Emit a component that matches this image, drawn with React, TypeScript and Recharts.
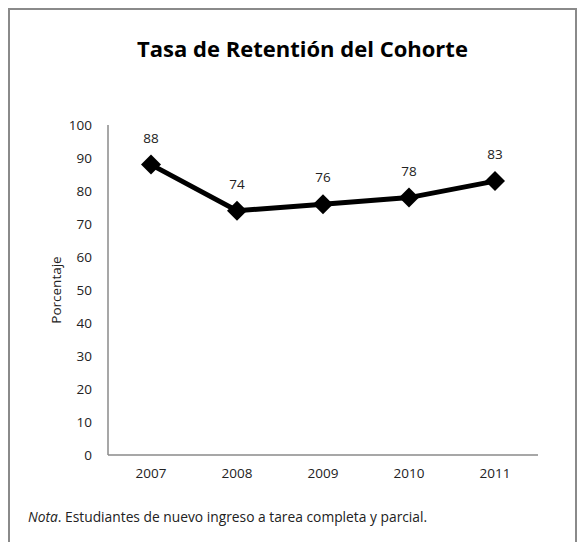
import { LineChart, Line, XAxis, YAxis, LabelList } from "recharts";

const years = ["2007", "2008", "2009", "2010", "2011"];
const retention = [88, 74, 76, 78, 83];
const yTicks = [0, 10, 20, 30, 40, 50, 60, 70, 80, 90, 100];

const data = years.map((year, i) => ({ year, value: retention[i] }));

const FONT = "'Open Sans', sans-serif";

function Diamond(props: any) {
  const { cx, cy } = props;
  if (cx == null || cy == null) return null;
  const r = 10;
  return (
    <path
      d={`M${cx},${cy - r} L${cx + r},${cy} L${cx},${cy + r} L${cx - r},${cy} Z`}
      fill="#000"
    />
  );
}

function YLabel(props: any) {
  const { viewBox } = props;
  const x = viewBox.x + 8;
  const y = viewBox.y + viewBox.height / 2;
  return (
    <text
      x={x}
      y={y}
      transform={`rotate(-90, ${x}, ${y})`}
      textAnchor="middle"
      dominantBaseline="central"
      fontSize={13.5}
      fontFamily={FONT}
      fill="#222"
    >
      Porcentaje
    </text>
  );
}

export default function App() {
  return (
    <div
      style={{
        position: "relative",
        width: 565,
        height: 532,
        borderTop: "2px solid #8a8a8a",
        borderLeft: "2px solid #8a8a8a",
        borderRight: "2px solid #8a8a8a",
        fontFamily: FONT,
      }}
    >
      <div
        style={{
          position: "absolute",
          top: 23,
          left: 10,
          width: 565,
          textAlign: "center",
          fontSize: 22,
          fontWeight: "bold",
          color: "#000",
        }}
      >
        Tasa de Retentión del Cohorte
      </div>
      <LineChart
        width={565}
        height={480}
        data={data}
        margin={{ top: 115, right: 37, bottom: 5, left: 38 }}
      >
        <XAxis
          dataKey="year"
          stroke="#8a8a8a"
          strokeWidth={1.5}
          tickLine={false}
          tickMargin={7}
          padding={{ left: 43, right: 43 }}
          tick={{ fill: "#222", fontSize: 13.5, fontFamily: FONT }}
          height={30}
        />
        <YAxis
          domain={[0, 100]}
          ticks={yTicks}
          stroke="#8a8a8a"
          strokeWidth={1.5}
          tickLine={false}
          tickMargin={10}
          width={60}
          tick={{ fill: "#222", fontSize: 13.5, fontFamily: FONT }}
          label={{ content: YLabel }}
        />
        <Line
          dataKey="value"
          stroke="#000"
          strokeWidth={5}
          dot={<Diamond />}
          activeDot={false}
          isAnimationActive={false}
        >
          <LabelList
            dataKey="value"
            position="top"
            offset={22}
            fill="#222"
            fontSize={13.5}
            fontFamily={FONT}
          />
        </Line>
      </LineChart>
      <div
        style={{
          position: "absolute",
          top: 497,
          left: 18,
          fontSize: 13.8,
          color: "#222",
        }}
      >
        <i>Nota</i>. Estudiantes de nuevo ingreso a tarea completa y parcial.
      </div>
    </div>
  );
}
